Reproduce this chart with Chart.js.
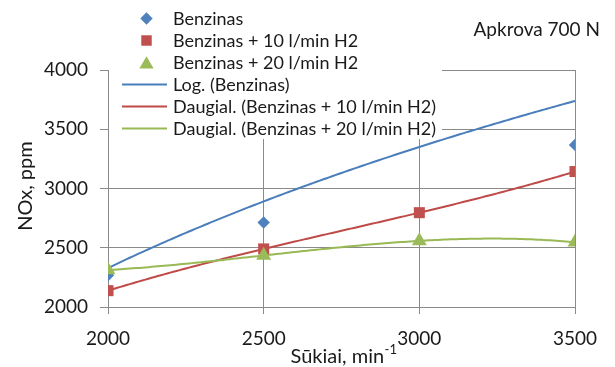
<!DOCTYPE html>
<html>
<head>
<meta charset="utf-8">
<script src="https://cdn.jsdelivr.net/npm/chart.js@4/dist/chart.umd.min.js"></script>
<style>
  html, body { margin: 0; padding: 0; background: #ffffff; }
  #wrap { width: 615px; height: 367px; position: relative; }
</style>
</head>
<body>
<div id="wrap"><canvas id="c" width="615" height="367"></canvas></div>
<script>
// Engine speed, min^-1
const rpm = [2000, 2500, 3000, 3500];
// NOx, ppm
const benzinas = [2268, 2713, 3960, 3368];
const benzinas10 = [2138, 2490, 2796, 3143];
const benzinas20 = [2312, 2435, 2558, 2546];

const seriesNames = ['Benzinas', 'Benzinas + 10 l/min H2', 'Benzinas + 20 l/min H2'];
const trendNames = ['Log. (Benzinas)', 'Daugial. (Benzinas + 10 l/min H2)', 'Daugial. (Benzinas + 20 l/min H2)'];
const yTicks = [2000, 2500, 3000, 3500, 4000];
const xTicks = [2000, 2500, 3000, 3500];

const FONT = 'Lato, "Open Sans", sans-serif';
const TEXT = '#1a1a1a';
const GRID = '#8a8a8a';
const C_BLUE = '#4F81BD', C_RED = '#C0504D', C_GREEN = '#9BBB59';
const L_BLUE = '#4A7EBB', L_RED = '#BE4B48', L_GREEN = '#98B954';

// least-squares fits used for the trend lines
function fitLog(xs, ys) {
  const n = xs.length;
  const lx = xs.map(Math.log);
  const mx = lx.reduce((a, b) => a + b, 0) / n;
  const my = ys.reduce((a, b) => a + b, 0) / n;
  let sxy = 0, sxx = 0;
  for (let i = 0; i < n; i++) { sxy += (lx[i] - mx) * (ys[i] - my); sxx += (lx[i] - mx) ** 2; }
  const a = sxy / sxx, b = my - a * mx;
  return x => a * Math.log(x) + b;
}
function fitPoly(xs, ys, order) {
  // centred, scaled x for numerical stability
  const x0 = 2750, sc = 500;
  const u = xs.map(x => (x - x0) / sc);
  const m = order + 1;
  const M = [];
  for (let r = 0; r < m; r++) {
    const row = [];
    for (let c = 0; c < m; c++) row.push(u.reduce((s, v) => s + v ** (r + c), 0));
    row.push(u.reduce((s, v, i) => s + v ** r * ys[i], 0));
    M.push(row);
  }
  for (let i = 0; i < m; i++) {
    let p = i;
    for (let r = i + 1; r < m; r++) if (Math.abs(M[r][i]) > Math.abs(M[p][i])) p = r;
    [M[i], M[p]] = [M[p], M[i]];
    for (let r = 0; r < m; r++) {
      if (r === i) continue;
      const f = M[r][i] / M[i][i];
      for (let c = i; c <= m; c++) M[r][c] -= f * M[i][c];
    }
  }
  const coef = M.map((row, i) => row[m] / row[i]);
  return x => { const t = (x - x0) / sc; return coef.reduce((s, c, k) => s + c * t ** k, 0); };
}
function curve(fn) {
  const pts = [];
  for (let x = rpm[0]; x <= rpm[rpm.length - 1]; x += 10) pts.push({ x, y: fn(x) });
  return pts;
}
const pairs = ys => rpm.map((x, i) => ({ x, y: ys[i] }));

const markers = [
  { label: seriesNames[0], data: pairs(benzinas), backgroundColor: C_BLUE, pointStyle: 'rectRot', pointRadius: 6.2, order: 2 },
  { label: seriesNames[1], data: pairs(benzinas10), backgroundColor: C_RED, pointStyle: 'rect', pointRadius: 7.8, order: 1 },
  { label: seriesNames[2], data: pairs(benzinas20), backgroundColor: C_GREEN, pointStyle: 'triangle', pointRadius: 8.6, order: 0 }
].map(d => Object.assign(d, { showLine: false, borderWidth: 0, borderColor: d.backgroundColor, pointHoverRadius: d.pointRadius }));

const trends = [
  { label: trendNames[0], data: curve(fitLog(rpm, benzinas)), borderColor: L_BLUE, order: 5 },
  { label: trendNames[1], data: curve(fitPoly(rpm, benzinas10, 3)), borderColor: L_RED, order: 4 },
  { label: trendNames[2], data: curve(fitPoly(rpm, benzinas20, 3)), borderColor: L_GREEN, order: 3 }
].map(d => Object.assign(d, { showLine: true, borderWidth: 2, pointRadius: 0, pointHoverRadius: 0, tension: 0, fill: false }));

// legend box laid over the upper-left part of the plot, plus chart and axis titles
const overlay = {
  id: 'overlay',
  afterDatasetsDraw(chart) {
    const ctx = chart.ctx;
    const area = chart.chartArea;
    ctx.save();
    ctx.fillStyle = '#ffffff';
    ctx.fillRect(area.left + 1, 0, 442 - area.left - 1, 139);

    const rows = [
      { kind: 'pt', style: 'rectRot', r: 6.2, color: C_BLUE, text: seriesNames[0] },
      { kind: 'pt', style: 'rect', r: 7.4, color: C_RED, text: seriesNames[1] },
      { kind: 'pt', style: 'triangle', r: 8.2, color: C_GREEN, text: seriesNames[2] },
      { kind: 'ln', color: L_BLUE, text: trendNames[0] },
      { kind: 'ln', color: L_RED, text: trendNames[1] },
      { kind: 'ln', color: L_GREEN, text: trendNames[2] }
    ];
    const y0 = 18.5, dy = 22;
    ctx.font = '18px ' + FONT;
    ctx.textBaseline = 'middle';
    ctx.textAlign = 'left';
    rows.forEach((r, i) => {
      const y = y0 + i * dy;
      if (r.kind === 'pt') {
        ctx.fillStyle = r.color;
        ctx.strokeStyle = r.color;
        Chart.helpers.drawPoint(ctx, { pointStyle: r.style, radius: r.r, rotation: 0, borderWidth: 0 }, 146.5, r.style === 'triangle' ? y + 2 : y);
      } else {
        ctx.strokeStyle = r.color;
        ctx.lineWidth = 2;
        ctx.beginPath();
        ctx.moveTo(122, y);
        ctx.lineTo(167, y);
        ctx.stroke();
      }
      ctx.fillStyle = TEXT;
      ctx.fillText(r.text, 173, y + 1);
    });

    // chart title
    ctx.font = '19px ' + FONT;
    ctx.textAlign = 'right';
    ctx.fillText('Apkrova 700 N', 600, 30);

    // y axis title
    ctx.save();
    ctx.translate(26, 186);
    ctx.rotate(-Math.PI / 2);
    ctx.textAlign = 'center';
    ctx.font = '20px ' + FONT;
    ctx.fillText('NOx, ppm', 0, 0);
    ctx.restore();

    // x axis title with superscript
    const base = 'Sūkiai, min';
    const sup = '-1';
    ctx.font = '20px ' + FONT;
    const wb = ctx.measureText(base).width;
    ctx.font = '13px ' + FONT;
    const ws = ctx.measureText(sup).width;
    const xs = (area.left + area.right) / 2 - (wb + ws) / 2 + 2;
    ctx.textAlign = 'left';
    ctx.textBaseline = 'alphabetic';
    ctx.font = '20px ' + FONT;
    ctx.fillText(base, xs, 363);
    ctx.font = '13px ' + FONT;
    ctx.fillText(sup, xs + wb + 0.5, 354);
    ctx.restore();
  }
};

new Chart(document.getElementById('c'), {
  type: 'scatter',
  data: { datasets: [...markers, ...trends] },
  options: {
    responsive: false,
    animation: false,
    events: [],
    layout: { padding: { left: 0, right: 40, top: 70, bottom: 0 } },
    plugins: { legend: { display: false }, tooltip: { enabled: false }, title: { display: false } },
    scales: {
      x: {
        type: 'linear',
        min: rpm[0],
        max: rpm[rpm.length - 1],
        afterBuildTicks: s => { s.ticks = xTicks.map(v => ({ value: v })); },
        afterFit: s => { s.height = 60; },
        ticks: { color: TEXT, font: { family: FONT, size: 19 }, padding: 13, maxRotation: 0, callback: v => String(v) },
        grid: { color: GRID, lineWidth: 1, tickLength: 7, drawTicks: true },
        border: { color: GRID, width: 1 }
      },
      y: {
        type: 'linear',
        min: yTicks[0],
        max: yTicks[yTicks.length - 1],
        afterBuildTicks: s => { s.ticks = yTicks.map(v => ({ value: v })); },
        afterFit: s => { s.width = 108; },
        ticks: { color: TEXT, font: { family: FONT, size: 19 }, padding: 12, callback: v => String(v) },
        grid: { color: GRID, lineWidth: 1, tickLength: 8, drawTicks: true },
        border: { color: GRID, width: 1 }
      }
    }
  },
  plugins: [overlay]
});
</script>
</body>
</html>
